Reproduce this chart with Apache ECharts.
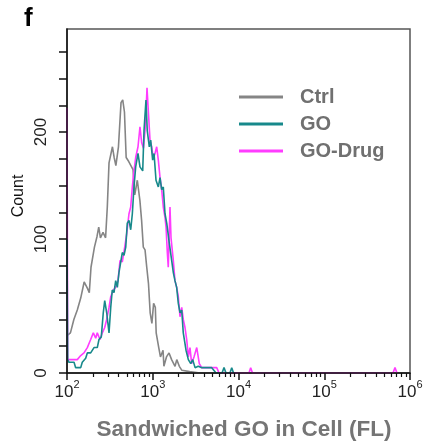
<!DOCTYPE html>
<html>
<head>
<meta charset="utf-8">
<script src="https://cdn.jsdelivr.net/npm/echarts@6/dist/echarts.min.js"></script>
<style>
  html, body { margin: 0; padding: 0; background: #fff; }
  #chart { width: 425px; height: 444px; }
</style>
</head>
<body>
<div id="chart"></div>
<script>
// Flow-cytometry histograms, each point is [log10(FL intensity), event count]
const ctrlHist = [
  [2.00, 28], [2.04, 30], [2.08, 40], [2.12, 47], [2.16, 56], [2.20, 68], [2.24, 63], [2.26, 60],
  [2.28, 79], [2.32, 94], [2.35, 102], [2.37, 109], [2.39, 101], [2.42, 105], [2.45, 101], [2.47, 124],
  [2.49, 157], [2.53, 169], [2.55, 161], [2.57, 155], [2.60, 169], [2.63, 202], [2.65, 204], [2.67, 195],
  [2.69, 161], [2.72, 158], [2.74, 159], [2.77, 152], [2.79, 133], [2.82, 144], [2.85, 129], [2.87, 114],
  [2.89, 94], [2.91, 92], [2.93, 79], [2.95, 67], [2.97, 45], [2.99, 37], [3.01, 52], [3.03, 49],
  [3.04, 30], [3.07, 19], [3.09, 12], [3.12, 17], [3.13, 5], [3.16, 12], [3.19, 15], [3.22, 10],
  [3.26, 5], [3.28, 10], [3.31, 5], [3.34, 2], [3.43, 1], [3.55, 0]
];

const goHist = [
  [2.000, 100], [2.008, 10], [2.023, 8], [2.082, 8], [2.101, 4], [2.160, 4], [2.178, 8], [2.218, 11],
  [2.237, 15], [2.276, 15], [2.315, 19], [2.353, 19], [2.373, 25], [2.400, 27], [2.423, 45], [2.440, 54],
  [2.463, 45], [2.490, 30], [2.510, 49], [2.528, 62], [2.548, 60], [2.568, 69], [2.587, 64], [2.606, 75],
  [2.645, 90], [2.665, 88], [2.685, 94], [2.703, 112], [2.723, 114], [2.743, 107], [2.762, 119], [2.781, 139],
  [2.801, 154], [2.828, 164], [2.851, 154], [2.883, 151], [2.898, 181], [2.921, 204], [2.936, 181], [2.960, 169],
  [2.976, 174], [2.999, 159], [3.015, 164], [3.038, 144], [3.065, 139], [3.085, 146], [3.104, 137], [3.123, 139],
  [3.143, 119], [3.163, 112], [3.193, 97], [3.221, 84], [3.240, 75], [3.259, 69], [3.279, 64], [3.298, 52],
  [3.318, 45], [3.338, 47], [3.356, 30], [3.388, 17], [3.415, 10], [3.443, 7], [3.466, 10], [3.493, 4],
  [3.531, 5], [3.571, 4], [3.629, 4], [3.688, 4], [3.738, 0], [3.808, 0], [3.831, 4], [3.854, 0],
  [3.900, 0], [3.921, 4], [3.942, 0]
];

const goDrugHist = [
  [2.000, 198], [2.008, 10], [2.120, 10], [2.160, 13], [2.198, 15], [2.237, 19], [2.276, 25], [2.307, 30],
  [2.335, 26], [2.353, 30], [2.385, 25], [2.412, 30], [2.440, 34], [2.463, 40], [2.490, 49], [2.510, 57],
  [2.540, 62], [2.568, 64], [2.595, 69], [2.618, 84], [2.645, 83], [2.673, 94], [2.696, 104], [2.723, 119],
  [2.743, 124], [2.762, 139], [2.781, 151], [2.801, 161], [2.828, 169], [2.851, 184], [2.871, 172], [2.892, 168],
  [2.915, 185], [2.933, 213], [2.950, 194], [2.968, 174], [2.988, 169], [3.006, 160], [3.026, 164], [3.046, 169],
  [3.065, 159], [3.085, 146], [3.104, 137], [3.123, 124], [3.143, 116], [3.155, 109], [3.170, 90], [3.181, 79],
  [3.201, 124], [3.213, 101], [3.240, 84], [3.259, 69], [3.279, 64], [3.298, 57], [3.318, 42], [3.338, 49],
  [3.356, 40], [3.376, 34], [3.396, 25], [3.415, 12], [3.434, 19], [3.454, 7], [3.481, 12], [3.513, 19],
  [3.543, 7], [3.571, 4], [3.629, 4], [3.706, 4], [3.746, 4], [3.773, 0], [4.122, 0], [4.142, 4],
  [4.163, 0], [5.802, 0], [5.825, 4], [5.848, 0]
];

const seriesNames = ['Ctrl', 'GO', 'GO-Drug'];
const seriesColors = ['#858585', '#17898b', '#ff3cff'];

// Axis ticks: decades on the log axis, minor ticks at 2..9 x 10^n
const xDecades = [2, 3, 4, 5, 6];
const xMinorMultipliers = [2, 3, 4, 5, 6, 7, 8, 9];
const xMinorTicks = [];
xDecades.slice(0, -1).forEach(d => xMinorMultipliers.forEach(k => xMinorTicks.push(d + Math.log10(k))));

const yTickValues = [0, 20, 40, 60, 80, 100, 120, 140, 160, 180, 200, 220, 240];
const yLabelValues = [0, 100, 180];
const yLabelTexts = ['0', '100', '200'];

const FONT = 'Liberation Sans, Arial, sans-serif';
const AXIS_COLOR = '#111';

const chart = echarts.init(document.getElementById('chart'), null, { renderer: 'canvas' });

const lineSeries = (name, data, color, z) => ({
  name, type: 'line', data, z,
  showSymbol: false, symbol: 'none',
  lineStyle: { color, width: 1.6 },
  itemStyle: { color },
  clip: true,
  emphasis: { disabled: true }
});

chart.setOption({
  animation: false,
  backgroundColor: '#fff',
  title: {
    text: 'f', left: 19, top: 1,
    textStyle: { fontSize: 26, fontWeight: 'bold', color: '#000', fontFamily: FONT }
  },
  legend: {
    data: seriesNames,
    orient: 'vertical',
    left: 239, top: 87, padding: 0,
    icon: 'rect',
    itemWidth: 44, itemHeight: 3,
    itemGap: 7,
    textStyle: { fontSize: 20, fontWeight: 'bold', color: '#707070', fontFamily: FONT, lineHeight: 20, padding: [0, 0, 0, 12] }
  },
  grid: {
    left: 67, right: 15, top: 29, bottom: 71,
    show: true, borderColor: '#555', borderWidth: 1.5, backgroundColor: 'transparent',
    outerBoundsMode: 'none', containLabel: false
  },
  xAxis: [{
    type: 'value', min: xDecades[0], max: xDecades[xDecades.length - 1], interval: 1,
    position: 'bottom', z: 5,
    axisLine: { show: true, onZero: false, lineStyle: { color: AXIS_COLOR, width: 1.5 } },
    axisTick: { show: true, length: 7, lineStyle: { color: AXIS_COLOR, width: 1.5 } },
    splitLine: { show: false },
    axisLabel: {
      margin: 6,
      formatter: v => '{b|10}{s|' + v + '}',
      rich: {
        b: { fontSize: 17, color: '#222', fontFamily: FONT, verticalAlign: 'bottom', lineHeight: 22 },
        s: { fontSize: 11, color: '#222', fontFamily: FONT, verticalAlign: 'top' }
      }
    },
    name: 'Sandwiched GO in Cell (FL)',
    nameLocation: 'middle', nameGap: 45, nameMoveOverlap: false,
    nameTextStyle: { fontSize: 22.5, fontWeight: 'bold', color: '#757575', fontFamily: FONT, padding: [0, 0, 0, 11] }
  }, {
    type: 'value', min: xDecades[0], max: xDecades[xDecades.length - 1],
    position: 'bottom', z: 5,
    axisLine: { show: false, onZero: false },
    axisTick: { show: true, length: 4, customValues: xMinorTicks, lineStyle: { color: AXIS_COLOR, width: 1.2 } },
    axisLabel: { show: false },
    splitLine: { show: false }
  }],
  yAxis: {
    type: 'value', min: 0, max: 257, position: 'left', z: 5,
    axisLine: { show: true, onZero: false, lineStyle: { color: AXIS_COLOR, width: 1.5 } },
    axisTick: { show: true, length: 8, customValues: yTickValues, lineStyle: { color: AXIS_COLOR, width: 1.5 } },
    splitLine: { show: false },
    axisLabel: {
      customValues: yLabelValues,
      formatter: v => yLabelTexts[yLabelValues.indexOf(v)],
      rotate: 90, margin: 17,
      fontSize: 17, color: '#222', fontFamily: FONT
    },
    name: 'Count',
    nameLocation: 'middle', nameGap: 40, nameRotate: 90, nameMoveOverlap: false,
    nameTextStyle: { fontSize: 16, color: '#111', fontFamily: FONT, padding: [0, 0, 0, 10] }
  },
  series: [
    lineSeries(seriesNames[0], ctrlHist, seriesColors[0], 2),
    lineSeries(seriesNames[2], goDrugHist, seriesColors[2], 3),
    lineSeries(seriesNames[1], goHist, seriesColors[1], 4)
  ]
});
</script>
</body>
</html>
